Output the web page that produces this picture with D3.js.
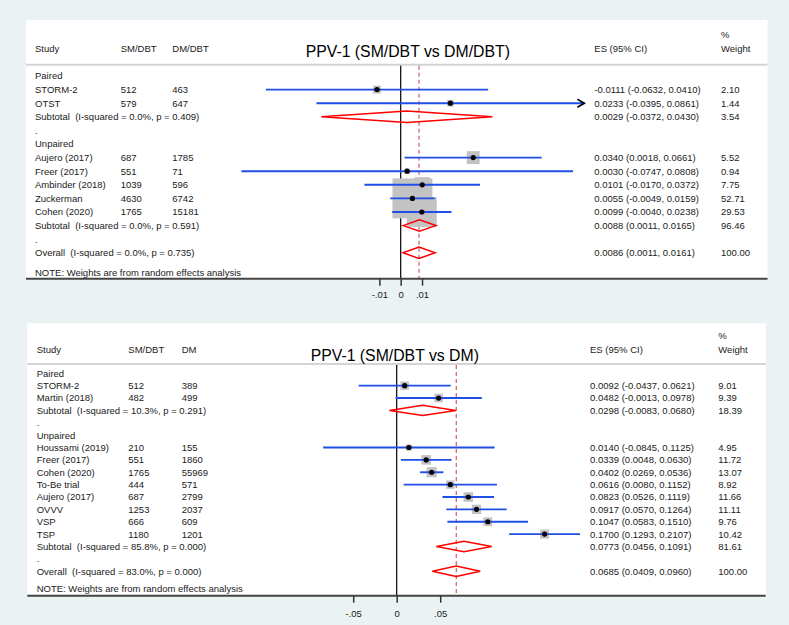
<!DOCTYPE html>
<html><head><meta charset="utf-8">
<script src="https://cdn.jsdelivr.net/npm/d3@7"></script>
<style>
html,body{margin:0;padding:0;background:#eaf2f3;}
svg{display:block;font-family:"Liberation Sans",Arial,sans-serif;}
</style></head>
<body>
<svg id="chart" width="789" height="625"></svg>
<script>
// ---------- DATA: top panel (SM/DBT vs DM/DBT) ----------
const topTitle = "PPV-1 (SM/DBT vs DM/DBT)";
const topHeaders = ["Study", "SM/DBT", "DM/DBT"];
const topLabels = ["Paired","STORM-2","OTST","Subtotal  (I-squared = 0.0%, p = 0.409)",".","Unpaired",
  "Aujero (2017)","Freer (2017)","Ambinder (2018)","Zuckerman","Cohen (2020)",
  "Subtotal  (I-squared = 0.0%, p = 0.591)",".","Overall  (I-squared = 0.0%, p = 0.735)"];
const topKind = ["group","study","study","sub","gap","group","study","study","study","study","study","sub","gap","overall"];
const topSM = [null,512,579,null,null,null,687,551,1039,4630,1765,null,null,null];
const topDM = [null,463,647,null,null,null,1785,71,596,6742,15181,null,null,null];
const topES = [null,-0.0111,0.0233,0.0029,null,null,0.0340,0.0030,0.0101,0.0055,0.0099,0.0088,null,0.0086];
const topLo = [null,-0.0632,-0.0395,-0.0372,null,null,0.0018,-0.0747,-0.0170,-0.0049,-0.0040,0.0011,null,0.0011];
const topHi = [null,0.0410,0.0861,0.0430,null,null,0.0661,0.0808,0.0372,0.0159,0.0238,0.0165,null,0.0161];
const topW  = [null,2.10,1.44,3.54,null,null,5.52,0.94,7.75,52.71,29.53,96.46,null,100.00];
const topTicks = [-0.01, 0, 0.01];
const topTickLabels = ["-.01", "0", ".01"];
const topXMax = 0.0861;   // right end of the plotted range (CI clipped with arrow)

// ---------- DATA: bottom panel (SM/DBT vs DM) ----------
const botTitle = "PPV-1 (SM/DBT vs DM)";
const botHeaders = ["Study", "SM/DBT", "DM"];
const botLabels = ["Paired","STORM-2","Martin (2018)","Subtotal  (I-squared = 10.3%, p = 0.291)",".","Unpaired",
  "Houssami (2019)","Freer (2017)","Cohen (2020)","To-Be trial","Aujero (2017)","OVVV","VSP","TSP",
  "Subtotal  (I-squared = 85.8%, p = 0.000)",".","Overall  (I-squared = 83.0%, p = 0.000)"];
const botKind = ["group","study","study","sub","gap","group","study","study","study","study","study","study","study","study","sub","gap","overall"];
const botSM = [null,512,482,null,null,null,210,551,1765,444,687,1253,666,1180,null,null,null];
const botDM = [null,389,499,null,null,null,155,1860,55969,571,2799,2037,609,1201,null,null,null];
const botES = [null,0.0092,0.0482,0.0298,null,null,0.0140,0.0339,0.0402,0.0616,0.0823,0.0917,0.1047,0.1700,0.0773,null,0.0685];
const botLo = [null,-0.0437,-0.0013,-0.0083,null,null,-0.0845,0.0048,0.0269,0.0080,0.0526,0.0570,0.0583,0.1293,0.0456,null,0.0409];
const botHi = [null,0.0621,0.0978,0.0680,null,null,0.1125,0.0630,0.0536,0.1152,0.1119,0.1264,0.1510,0.2107,0.1091,null,0.0960];
const botW  = [null,9.01,9.39,18.39,null,null,4.95,11.72,13.07,8.92,11.66,11.11,9.76,10.42,81.61,null,100.00];
const botTicks = [-0.05, 0, 0.05];
const botTickLabels = ["-.05", "0", ".05"];
const botXMax = 0.25;

const noteText = "NOTE: Weights are from random effects analysis";

// ---------- DRAW ----------
const svg = d3.select("#chart");
const loc = d3.formatLocale({decimal: ".", thousands: ",", grouping: [3], currency: ["", ""], minus: "-"});
const fmt4 = loc.format(".4f"), fmt2 = loc.format(".2f");
const TXT = "#1a1a1a", FS = 9.5;

function panel(cfg) {
  const g = svg.append("g");
  const {left, top, right, axisY, sepY, row0, rowH, cols} = cfg;
  const x = d3.scaleLinear().domain(cfg.domain).range(cfg.range);
  const y = i => row0 + i * rowH;
  // white plot region
  g.append("rect").attr("x", left).attr("y", top).attr("width", right - left).attr("height", axisY - top).attr("fill", "#ffffff");
  // header separator
  g.append("line").attr("x1", left).attr("x2", right).attr("y1", sepY).attr("y2", sepY).attr("stroke", "#d4d4d4").attr("stroke-width", 2);
  // header texts
  const hy = cfg.headY + 3.4;
  cfg.headers.forEach((h, i) => g.append("text").attr("x", cols[i]).attr("y", hy).attr("font-size", FS).attr("fill", TXT).text(h));
  g.append("text").attr("x", cols[3]).attr("y", hy).attr("font-size", FS).attr("fill", TXT).text("ES (95% CI)");
  g.append("text").attr("x", cols[4]).attr("y", cfg.pctY + 3.4).attr("font-size", FS).attr("fill", TXT).text("%");
  g.append("text").attr("x", cols[4]).attr("y", hy).attr("font-size", FS).attr("fill", TXT).text("Weight");
  g.append("text").attr("x", cfg.titleX).attr("y", cfg.titleY).attr("font-size", 15.8).attr("fill", "#000").text(cfg.title);

  // zero line and overall dashed line
  const overallIdx = cfg.kind.indexOf("overall");
  g.append("line").attr("x1", x(0)).attr("x2", x(0)).attr("y1", sepY + 1).attr("y2", axisY).attr("stroke", "#000").attr("stroke-width", 1.2);
  g.append("line").attr("x1", x(cfg.es[overallIdx])).attr("x2", x(cfg.es[overallIdx])).attr("y1", sepY + 1).attr("y2", axisY)
    .attr("stroke", "#d46a6e").attr("stroke-width", 1.3).attr("stroke-dasharray", "4,3");

  const idx = d3.range(cfg.labels.length);
  const studies = idx.filter(i => cfg.kind[i] === "study");
  // weight squares
  g.selectAll(".sq").data(studies).join("rect")
    .attr("x", i => x(cfg.es[i]) - cfg.k * Math.sqrt(cfg.w[i]) / 2)
    .attr("y", i => y(i) - cfg.k * Math.sqrt(cfg.w[i]) / 2)
    .attr("width", i => cfg.k * Math.sqrt(cfg.w[i]))
    .attr("height", i => cfg.k * Math.sqrt(cfg.w[i]))
    .attr("fill", "#c3c3c3");
  // CI lines
  g.selectAll(".ci").data(studies).join("line")
    .attr("x1", i => x(cfg.lo[i])).attr("x2", i => x(Math.min(cfg.hi[i], cfg.xmax)))
    .attr("y1", i => y(i)).attr("y2", i => y(i))
    .attr("stroke", "#1f4fe6").attr("stroke-width", 1.9);
  // arrows for clipped CIs
  studies.filter(i => cfg.hi[i] >= cfg.xmax).forEach(i => {
    const ax = x(cfg.xmax), ay = y(i);
    g.append("path").attr("d", `M${ax - 7},${ay - 4} L${ax},${ay} L${ax - 7},${ay + 4}`)
      .attr("fill", "none").attr("stroke", "#000").attr("stroke-width", 1.6);
  });
  // point estimates
  g.selectAll(".pt").data(studies).join("circle")
    .attr("cx", i => x(cfg.es[i])).attr("cy", i => y(i)).attr("r", 2.6).attr("fill", "#000");
  // diamonds
  const pooled = idx.filter(i => cfg.kind[i] === "sub" || cfg.kind[i] === "overall");
  const dh = rowH * 0.42;
  g.selectAll(".dm").data(pooled).join("path")
    .attr("d", i => `M${x(cfg.lo[i])},${y(i)} L${x(cfg.es[i])},${y(i) - dh} L${x(cfg.hi[i])},${y(i)} L${x(cfg.es[i])},${y(i) + dh} Z`)
    .attr("fill", "none").attr("stroke", "#ff0000").attr("stroke-width", 1.5);

  // table text
  idx.forEach(i => {
    const ty = y(i) + 3.4;
    g.append("text").attr("x", cols[0]).attr("y", ty).attr("font-size", FS).attr("fill", TXT)
      .attr("xml:space", "preserve").style("white-space", "pre").text(cfg.labels[i]);
    if (cfg.sm[i] != null) g.append("text").attr("x", cols[1]).attr("y", ty).attr("font-size", FS).attr("fill", TXT).text(cfg.sm[i]);
    if (cfg.dm[i] != null) g.append("text").attr("x", cols[2]).attr("y", ty).attr("font-size", FS).attr("fill", TXT).text(cfg.dm[i]);
    if (cfg.es[i] != null) {
      g.append("text").attr("x", cols[3]).attr("y", ty).attr("font-size", FS).attr("fill", TXT)
        .text(`${fmt4(cfg.es[i])} (${fmt4(cfg.lo[i])}, ${fmt4(cfg.hi[i])})`);
      g.append("text").attr("x", cols[4]).attr("y", ty).attr("font-size", FS).attr("fill", TXT).text(fmt2(cfg.w[i]));
    }
  });
  g.append("text").attr("x", cols[0]).attr("y", cfg.noteY + 3.4).attr("font-size", FS).attr("fill", TXT).text(noteText);

  // axis
  g.append("line").attr("x1", left).attr("x2", right).attr("y1", axisY).attr("y2", axisY).attr("stroke", "#444").attr("stroke-width", 2);
  const axis = d3.axisBottom(x).tickValues(cfg.ticks).tickSize(7).tickFormat((d, i) => cfg.tickLabels[i]);
  const ag = g.append("g").attr("transform", `translate(0,${axisY})`).call(axis);
  ag.select(".domain").remove();
  ag.selectAll(".tick line").attr("stroke", "#333").attr("stroke-width", 1.5);
  ag.selectAll(".tick text").attr("font-size", FS).attr("fill", TXT).attr("font-family", "Liberation Sans, Arial, sans-serif").attr("dy", "0.75em").attr("y", cfg.tickTextY);
}

const topZero = 400.7, topPx = 2133;
panel({
  title: topTitle, headers: topHeaders, labels: topLabels, kind: topKind,
  sm: topSM, dm: topDM, es: topES, lo: topLo, hi: topHi, w: topW,
  ticks: topTicks, tickLabels: topTickLabels, xmax: topXMax,
  domain: [-0.1, 0.1], range: [topZero - 0.1 * topPx, topZero + 0.1 * topPx],
  left: 26, top: 20, right: 767.5, axisY: 278.7, sepY: 64.8,
  row0: 76, rowH: 13.6, headY: 49, pctY: 35, noteY: 272.3,
  titleX: 305.7, titleY: 57.3, cols: [35, 120.7, 172.3, 594.3, 721], k: 5.5, tickTextY: 12.5
});
const botZero = 396.7, botPx = 870;
panel({
  title: botTitle, headers: botHeaders, labels: botLabels, kind: botKind,
  sm: botSM, dm: botDM, es: botES, lo: botLo, hi: botHi, w: botW,
  ticks: botTicks, tickLabels: botTickLabels, xmax: botXMax,
  domain: [-0.2, 0.3], range: [botZero - 0.2 * botPx, botZero + 0.3 * botPx],
  left: 27.3, top: 323.3, right: 765.7, axisY: 595.7, sepY: 364,
  row0: 373.3, rowH: 12.37, headY: 349.3, pctY: 336, noteY: 589,
  titleX: 310.7, titleY: 360.7, cols: [36.7, 128.3, 181.7, 590, 718.3], k: 2.8, tickTextY: 14.5
});
</script>
</body></html>
